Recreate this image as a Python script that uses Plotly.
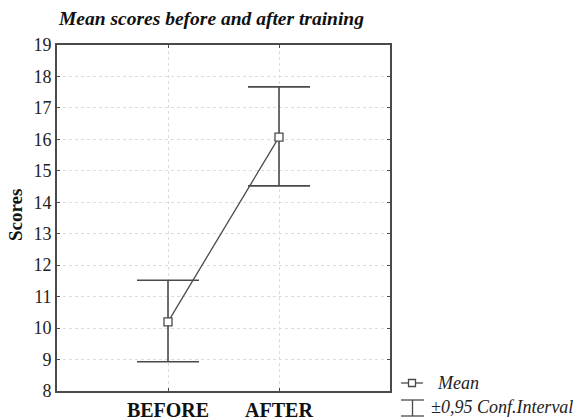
import plotly.graph_objects as go

categories = ["BEFORE", "AFTER"]
means = [10.2, 16.07]
ci_low = [8.93, 14.52]
ci_high = [11.52, 17.67]

title = "Mean scores before and after training"
y_title = "Scores"
y_ticks = list(range(8, 20))

err_plus = [h - m for h, m in zip(ci_high, means)]
err_minus = [m - l for m, l in zip(means, ci_low)]

LINE = "#4a4a4a"
SERIF = "Liberation Serif, Times New Roman, serif"

W, H = 587, 420
L, T = 57, 45
R = W - 390
B = H - 391

def px(x):  # screen x -> paper
    return (x - L) / (W - L - R)

def py(y):  # screen y -> paper
    return 1 - (y - T) / (H - T - B)

fig = go.Figure()
fig.add_trace(go.Scatter(
    x=categories, y=means, mode="lines+markers",
    line=dict(color=LINE, width=1.3),
    marker=dict(symbol="square", size=8, color="white", line=dict(color=LINE, width=1.3)),
    error_y=dict(type="data", symmetric=False, array=err_plus, arrayminus=err_minus,
                 color=LINE, thickness=1.6, width=31),
    showlegend=False,
))

shapes = [
    # legend: Mean symbol
    dict(type="line", xref="paper", yref="paper", x0=px(401), x1=px(423), y0=py(383), y1=py(383),
         line=dict(color=LINE, width=1.3)),
    dict(type="rect", xref="paper", yref="paper", x0=px(408.5), x1=px(415.5), y0=py(379.5), y1=py(386.5),
         line=dict(color=LINE, width=1.3), fillcolor="white"),
    # legend: CI symbol
    dict(type="line", xref="paper", yref="paper", x0=px(401), x1=px(424), y0=py(400), y1=py(400),
         line=dict(color=LINE, width=1.3)),
    dict(type="line", xref="paper", yref="paper", x0=px(412.5), x1=px(412.5), y0=py(400), y1=py(416),
         line=dict(color=LINE, width=1.3)),
    dict(type="line", xref="paper", yref="paper", x0=px(401), x1=px(424), y0=py(416), y1=py(416),
         line=dict(color=LINE, width=1.3)),
]

annotations = [
    dict(text="<b><i>" + title + "</i></b>", xref="paper", yref="paper", x=px(56), y=py(18),
         xanchor="left", yanchor="middle", showarrow=False,
         font=dict(family=SERIF, size=19.5, color="#111")),
    dict(text="<b>" + y_title + "</b>", xref="paper", yref="paper", x=px(15), y=py(215),
         xanchor="center", yanchor="middle", showarrow=False, textangle=-90,
         font=dict(family=SERIF, size=19, color="#111")),
    dict(text="<i>Mean</i>", xref="paper", yref="paper", x=px(435), y=py(383),
         xanchor="left", yanchor="middle", showarrow=False,
         font=dict(family=SERIF, size=18, color="#222")),
    dict(text="<i>±0,95 Conf.Interval</i>", xref="paper", yref="paper", x=px(429), y=py(407),
         xanchor="left", yanchor="middle", showarrow=False,
         font=dict(family=SERIF, size=18, color="#222")),
]

fig.update_layout(
    width=W, height=H,
    margin=dict(l=L, r=R, t=T, b=B, autoexpand=False),
    paper_bgcolor="white", plot_bgcolor="white",
    font=dict(family=SERIF, color="#222"),
    shapes=shapes, annotations=annotations,
    showlegend=False,
)
fig.update_xaxes(
    type="category", range=[-1, 2], automargin=False,
    tickfont=dict(family=SERIF, size=20, color="#111"),
    tickprefix="<b>", ticksuffix="</b>",
    showgrid=True, gridcolor="#dcdcdc", griddash="dot", gridwidth=1,
    showline=True, linecolor=LINE, linewidth=1.8, mirror="ticks",
    ticks="inside", ticklen=3, tickcolor=LINE,
    zeroline=False,
)
fig.update_yaxes(
    range=[8, 19], tickvals=y_ticks, automargin=False,
    tickfont=dict(family=SERIF, size=18, color="#222"),
    showgrid=True, gridcolor="#dcdcdc", griddash="dot", gridwidth=1,
    showline=True, linecolor=LINE, linewidth=1.8, mirror="ticks",
    ticks="inside", ticklen=3, tickcolor=LINE,
    zeroline=False,
)

fig.write_html("out.html", config={"displayModeBar": False},
               post_script="document.body.style.margin='0';")
